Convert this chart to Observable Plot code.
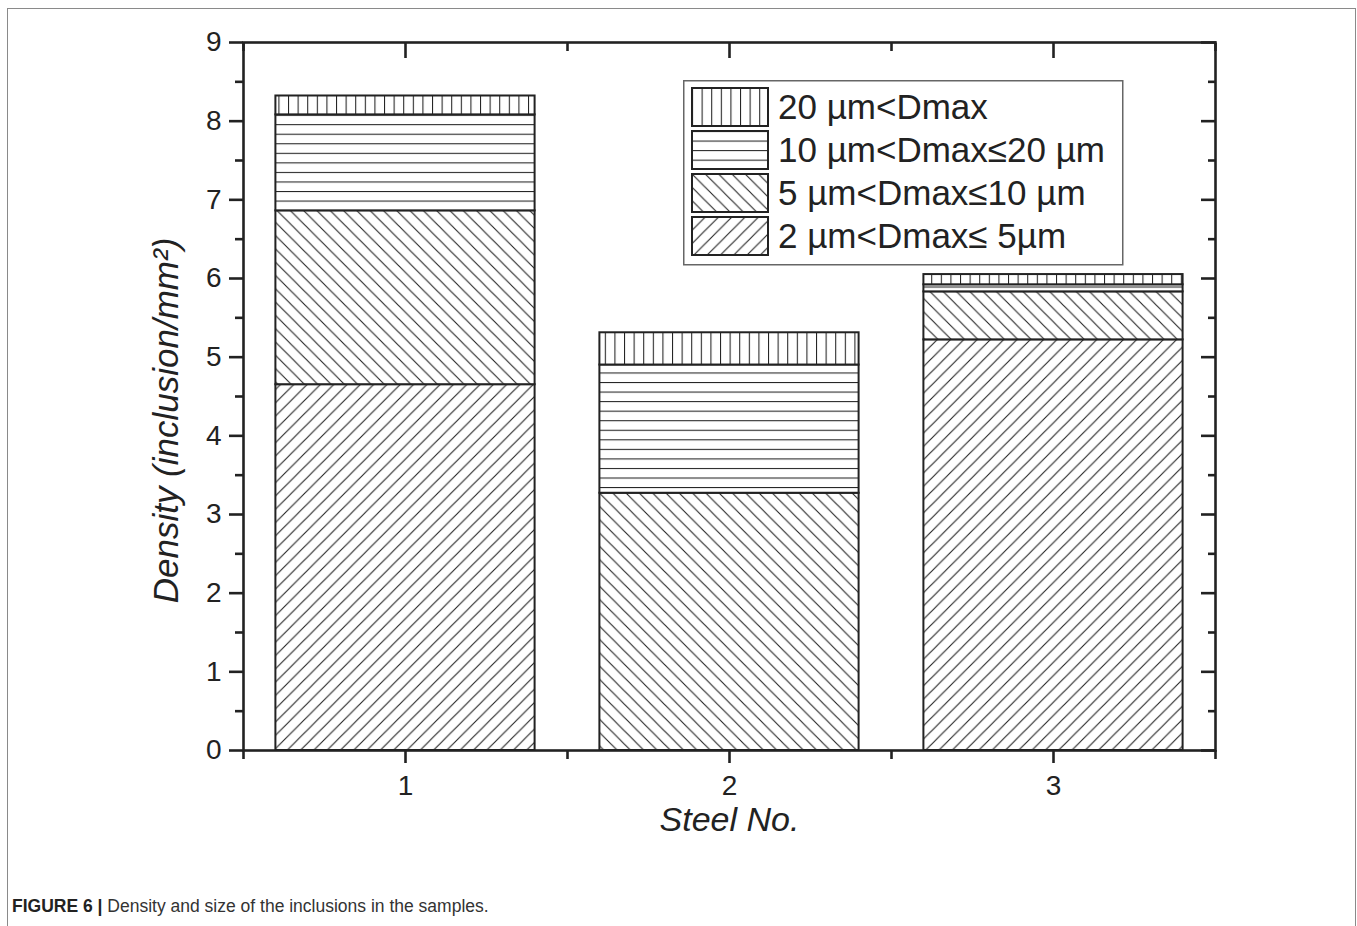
<!DOCTYPE html>
<html><head><meta charset="utf-8">
<script src="https://cdn.jsdelivr.net/npm/d3@7"></script>
<script src="https://cdn.jsdelivr.net/npm/@observablehq/plot@0.6"></script>
<style>
body{margin:0;background:#fff;font-family:"Liberation Sans",Arial,sans-serif;}
#wrap{position:relative;width:1357px;height:926px;overflow:hidden;background:#fff;}
#border{position:absolute;left:7px;top:8px;width:1349px;height:960px;border:1.5px solid #8a8a8a;box-sizing:border-box;}
#chart{position:absolute;left:0;top:0;}
#legend{position:absolute;left:683px;top:80px;}
#caption{position:absolute;left:12px;top:896px;font-size:17.5px;line-height:20px;color:#333;white-space:nowrap;}
#caption b{font-weight:bold;color:#222;}
</style>
</head><body>
<svg width="0" height="0" style="position:absolute">
<defs>
<pattern id="hatchFwd" patternUnits="userSpaceOnUse" width="13.3" height="13.3">
<rect width="13.3" height="13.3" fill="#fff"/>
<path d="M-2,2 L2,-2 M0,13.3 L13.3,0 M11.3,15.3 L15.3,11.3" stroke="#222" stroke-width="1.1"/>
</pattern>
<pattern id="hatchBack" patternUnits="userSpaceOnUse" width="13.3" height="13.3">
<rect width="13.3" height="13.3" fill="#fff"/>
<path d="M11.3,-2 L15.3,2 M0,0 L13.3,13.3 M-2,11.3 L2,15.3" stroke="#222" stroke-width="1.1"/>
</pattern>
<pattern id="hatchHoriz" patternUnits="userSpaceOnUse" width="10" height="9.55">
<rect width="10" height="9.55" fill="#fff"/>
<path d="M0,0.5 H10" stroke="#222" stroke-width="1.1"/>
</pattern>
<pattern id="hatchVert" patternUnits="userSpaceOnUse" width="9.6" height="10">
<rect width="9.6" height="10" fill="#fff"/>
<path d="M0.5,0 V10" stroke="#222" stroke-width="1.1"/>
</pattern>
</defs>
</svg>
<div id="wrap">
<div id="border"></div>
<div id="chart"></div>
<div id="legend"></div>
<div id="caption"><b>FIGURE 6 |</b> Density and size of the inclusions in the samples.</div>
</div>
<script>
// ---- data ----
const steels = [1, 2, 3];
const seriesNames = ["2 µm<Dmax≤ 5µm", "5 µm<Dmax≤10 µm", "10 µm<Dmax≤20 µm", "20 µm<Dmax"];
const seriesPatterns = ["hatchFwd", "hatchBack", "hatchHoriz", "hatchVert"];
const d2to5 = [4.65, 0, 5.22];
const d5to10 = [2.21, 3.27, 0.61];
const d10to20 = [1.22, 1.63, 0.09];
const dOver20 = [0.24, 0.41, 0.13];
const yMajor = [0, 1, 2, 3, 4, 5, 6, 7, 8, 9];
const yMinor = [0.5, 1.5, 2.5, 3.5, 4.5, 5.5, 6.5, 7.5, 8.5];
const xMajor = [1, 2, 3];
const xMinor = [0.5, 1.5, 2.5, 3.5];
const xLabel = "Steel No.";
const yLabel = "Density (inclusion/mm²)";

const seriesValues = [d2to5, d5to10, d10to20, dOver20];
const halfWidth = 0.4;
const rows = [];
steels.forEach((s, i) => {
  let base = 0;
  seriesValues.forEach((vals, k) => {
    const v = vals[i];
    if (v > 0) rows.push({steel: s, series: seriesNames[k], y1: base, y2: base + v, pat: `url(#${seriesPatterns[k]})`});
    base += v;
  });
});

const ink = "#222";
const axisW = 2.6;
const fmt = d => String(d);
const chart = Plot.plot({
  width: 1357, height: 870,
  marginLeft: 243, marginRight: 142, marginTop: 42, marginBottom: 120,
  x: {type: "linear", domain: [0.5, 3.5]},
  y: {domain: [0, 9]},
  color: {type: "identity"},
  style: {fontFamily: '"Liberation Sans", Arial, sans-serif', fontSize: "28px", color: ink, background: "transparent", overflow: "visible"},
  marks: [
    Plot.rectY(rows, {x1: d => d.steel - halfWidth, x2: d => d.steel + halfWidth, y1: "y1", y2: "y2", fill: "pat", stroke: ink, strokeWidth: 2}),
    Plot.frame({stroke: ink, strokeWidth: axisW}),
    Plot.axisY({anchor: "left", ticks: yMajor, tickSize: 14, tickPadding: 8, tickFormat: fmt, strokeWidth: axisW, fontSize: 28, label: null}),
    Plot.axisY({anchor: "left", ticks: yMinor, tickSize: 8, fill: "none", strokeWidth: axisW, label: null}),
    Plot.axisY({anchor: "right", ticks: yMajor, tickSize: -15, fill: "none", strokeWidth: axisW, label: null}),
    Plot.axisY({anchor: "right", ticks: yMinor, tickSize: -8, fill: "none", strokeWidth: axisW, label: null}),
    Plot.axisX({anchor: "bottom", ticks: xMajor, tickSize: 13, tickPadding: 12, tickFormat: fmt, strokeWidth: axisW, fontSize: 28, label: null}),
    Plot.axisX({anchor: "bottom", ticks: xMinor, tickSize: 9, fill: "none", strokeWidth: axisW, label: null}),
    Plot.axisX({anchor: "top", ticks: xMajor, tickSize: -15, fill: "none", strokeWidth: axisW, label: null}),
    Plot.axisX({anchor: "top", ticks: xMinor, tickSize: -8, fill: "none", strokeWidth: axisW, label: null}),
    Plot.text([xLabel], {text: d => d, frameAnchor: "bottom", lineAnchor: "middle", textAnchor: "middle", dy: 70, fontSize: 34, fontStyle: "italic", fill: ink}),
    Plot.text([yLabel], {text: d => d, frameAnchor: "left", lineAnchor: "middle", textAnchor: "middle", dx: -77, dy: 24, rotate: -90, fontSize: 35, fontStyle: "italic", fill: ink})
  ]
});
document.getElementById("chart").appendChild(chart);

// ---- legend ----
const legendOrder = [3, 2, 1, 0];
const lg = d3.select("#legend").append("svg").attr("width", 442).attr("height", 187)
  .style("font-family", '"Liberation Sans", Arial, sans-serif');
lg.append("rect").attr("x", 0.75).attr("y", 0.75).attr("width", 439).attr("height", 184)
  .attr("fill", "#fff").attr("stroke", "#666").attr("stroke-width", 1.5);
legendOrder.forEach((k, i) => {
  const g = lg.append("g").attr("transform", `translate(9,${8 + i * 43})`);
  g.append("rect").attr("width", 76).attr("height", 38).attr("fill", `url(#${seriesPatterns[k]})`)
    .attr("stroke", ink).attr("stroke-width", 2);
  g.append("text").attr("x", 86).attr("y", 31).attr("font-size", 35).attr("fill", ink).text(seriesNames[k]);
});
</script>
</body></html>
